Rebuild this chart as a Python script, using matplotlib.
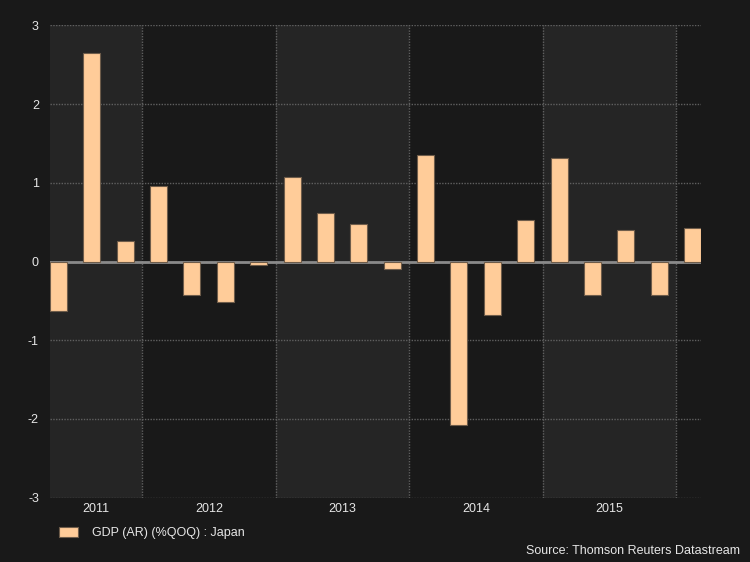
import matplotlib
matplotlib.use("Agg")
import matplotlib.pyplot as plt
from matplotlib.patches import Patch

# ---- data ----
quarters = ["2011Q2", "2011Q3", "2011Q4",
            "2012Q1", "2012Q2", "2012Q3", "2012Q4",
            "2013Q1", "2013Q2", "2013Q3", "2013Q4",
            "2014Q1", "2014Q2", "2014Q3", "2014Q4",
            "2015Q1", "2015Q2", "2015Q3", "2015Q4",
            "2016Q1"]
values = [-0.63, 2.65, 0.26,
          0.96, -0.43, -0.51, -0.05,
          1.07, 0.62, 0.47, -0.09,
          1.35, -2.08, -0.68, 0.53,
          1.31, -0.43, 0.40, -0.43,
          0.42]
year_labels = ["2011", "2012", "2013", "2014", "2015"]
y_ticks = [-3, -2, -1, 0, 1, 2, 3]
series_name = "GDP (AR) (%QOQ) : Japan"
source_text = "Source: Thomson Reuters Datastream"

# ---- style ----
BG = "#191919"
BAND = "#252525"
BAR = "#ffcc99"
BAR_EDGE = "#6e5c4a"
GRID = "#606060"
TEXT = "#e6e6e6"
FONT = ["Liberation Sans", "DejaVu Sans"]
FS = 9

plt.rcParams['font.family'] = FONT

def qpos(q):
    y = int(q[:4]); n = int(q[-1])
    return y + (n - 1) / 4.0

bar_off = 0.06
bar_w = 0.127
lefts = [qpos(q) + bar_off for q in quarters]

fig = plt.figure(figsize=(7.5, 5.62), dpi=100, facecolor=BG)
ax = fig.add_axes([50/750, 1 - 497.7/562, (701 - 50)/750, (497.7 - 25.3)/562])
ax.set_facecolor(BG)

xmin = lefts[0]
xmax = lefts[-1] + bar_w
ax.set_xlim(xmin, xmax)
ax.set_ylim(-3, 3)

# alternating year bands
years = [int(y) for y in year_labels]
for i, y in enumerate(years + [years[-1] + 1]):
    if i % 2 == 0:
        ax.axvspan(max(y, xmin), min(y + 1, xmax), color=BAND, lw=0, zorder=0)

# grid lines
for yt in y_ticks:
    ax.axhline(yt, color=GRID, lw=1, ls=(0, (1, 1)), zorder=1)
for y in years[1:] + [years[-1] + 1]:
    ax.axvline(y, color=GRID, lw=1, ls=(0, (1, 1)), zorder=1)

ax.axhline(0, color="#8a8a8a", lw=2, zorder=2)

ax.bar(lefts, values, width=bar_w, align='edge', color=BAR,
       edgecolor=BAR_EDGE, linewidth=0.8, zorder=3)

# ticks
ax.set_yticks(y_ticks)
ax.set_yticklabels([str(t) for t in y_ticks])
centers = [(max(y, xmin) + min(y + 1, xmax)) / 2 for y in years]
ax.set_xticks(centers)
ax.set_xticklabels(year_labels)
ax.tick_params(axis='both', length=0, colors=TEXT, labelsize=FS)
ax.tick_params(axis='y', pad=8)
ax.tick_params(axis='x', pad=4)
for s in ax.spines.values():
    s.set_visible(False)

# legend
handle = Patch(facecolor=BAR, edgecolor=BAR_EDGE, linewidth=0.8)
leg = fig.legend([handle], [series_name], loc='center left',
                 bbox_to_anchor=(59/750, 1 - 533/562), frameon=False,
                 fontsize=FS, handlelength=1.5, handleheight=0.9,
                 handletextpad=1.1, borderpad=0, borderaxespad=0,
                 labelcolor=TEXT)

fig.text(740/750, 1 - 551/562, source_text, ha='right', va='center',
         color=TEXT, fontsize=FS)

fig.savefig("out.png", dpi=100, facecolor=BG)
